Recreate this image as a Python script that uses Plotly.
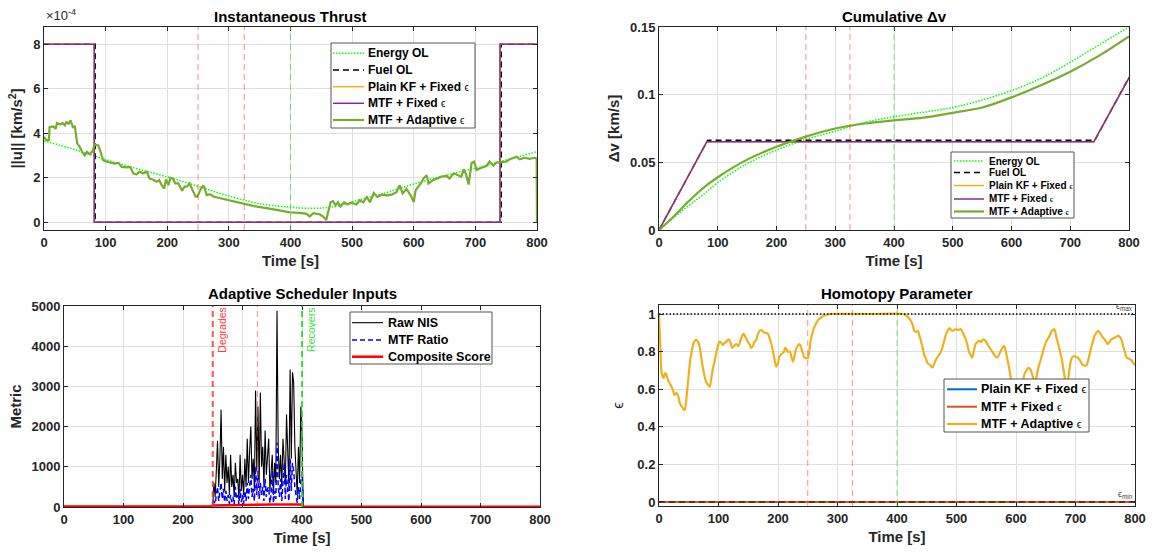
import plotly.graph_objects as go

W, H = 1154, 552
FONT = "Liberation Sans, Arial, Helvetica, sans-serif"
AX = "#262626"
GRID = "#DFDFDF"
EPS = "ϵ"

# ---------------- DATA ----------------
# Top-left: instantaneous thrust (units of 1e-4 km/s^2)
energy_t = [0, 50, 100, 150, 200, 250, 300, 350, 400, 425, 450, 475, 500, 550, 600, 650, 700, 750, 800]
energy_u = [3.66, 3.27, 2.82, 2.42, 2.04, 1.62, 1.18, 0.84, 0.68, 0.63, 0.64, 0.72, 0.92, 1.29, 1.72, 2.1, 2.43, 2.8, 3.18]

fuel_t = [0, 83, 83, 742, 742, 800]
fuel_u = [8, 8, 0, 0, 8, 8]
mtf_fixed_t = [0, 81.5, 81.5, 740, 740, 800]
mtf_fixed_u = [8, 8, 0, 0, 8, 8]
plain_t = [0, 81.5, 81.5, 740, 740, 800]
plain_u = [8, 8, 0, 0, 8, 8]

adapt_t = [0, 4, 8, 9, 15, 19, 21, 26, 30, 34, 36, 40, 43, 47, 50, 54, 58, 62, 66, 70,
           74, 79, 82, 88, 91, 96, 102, 107, 115, 121, 126, 134, 140, 145, 150, 155, 161, 167, 171, 178,
           183, 187, 191, 195, 198, 202, 205, 209, 213, 218, 224, 228, 232, 236, 240, 246, 249, 254, 258, 260,
           264, 269, 276, 308, 341, 373, 399, 415, 426, 431, 437, 448, 453, 458, 461, 465, 469, 473, 477, 481,
           487, 492, 499, 507, 512, 518, 524, 529, 535, 541, 548, 556, 564, 572, 577, 582, 588, 595, 600, 603,
           607, 612, 616, 621, 624, 631, 638, 645, 653, 658, 665, 672, 677, 681, 685, 689, 694, 698, 702, 710,
           718, 723, 729, 734, 742, 750, 758, 767, 772, 780, 788, 796, 799.5, 800]
adapt_u = [3.84, 3.69, 3.69, 4.28, 4.31, 4.2, 4.46, 4.4, 4.46, 4.36, 4.5, 4.43, 4.58, 4.28, 4.3, 3.54, 3.39, 3.16, 3.01, 3.16,
           3.06, 3.2, 3.5, 3.46, 3.24, 2.79, 2.72, 2.7, 2.64, 2.67, 2.49, 2.47, 2.49, 2.19, 2.16, 2.27, 2.2, 2.27, 1.97, 1.9,
           1.82, 1.9, 1.67, 1.52, 1.93, 1.67, 2.0, 1.97, 1.75, 1.75, 1.42, 1.6, 1.6, 1.75, 1.48, 1.15, 1.15, 1.48, 1.63, 1.6,
           1.22, 1.26, 1.15, 0.93, 0.73, 0.58, 0.45, 0.42, 0.38, 0.26, 0.41, 0.35, 0.26, 0.1, 0.4, 0.9, 0.95, 0.76, 0.9, 0.71,
           0.9, 0.8, 0.88, 0.8, 0.98, 0.9, 1.14, 0.9, 1.32, 1.14, 1.24, 1.21, 1.24, 1.35, 1.67, 1.3, 1.5, 1.21, 0.91, 1.44,
           1.59, 1.77, 1.97, 2.12, 1.74, 1.89, 1.97, 2.05, 2.08, 1.97, 2.2, 2.12, 2.05, 2.38, 2.15, 1.7, 2.68, 2.73, 2.35, 2.45,
           2.53, 2.73, 2.55, 2.68, 2.71, 2.73, 2.86, 2.95, 2.83, 2.9, 2.85, 2.9, 2.86, 0.0]

# Top-right: cumulative delta-v [km/s]
dv_t = [0, 25, 50, 75, 100, 150, 200, 250, 300, 350, 400, 450, 500, 550, 600, 650, 700, 750, 800]
dv_energy = [0, 0.0092, 0.0178, 0.026, 0.035, 0.049, 0.059, 0.067, 0.073, 0.0795, 0.0837, 0.087, 0.0905, 0.096, 0.103, 0.112, 0.124, 0.137, 0.150]
dv_adapt = [0, 0.010, 0.021, 0.031, 0.039, 0.052, 0.0615, 0.069, 0.075, 0.0787, 0.081, 0.083, 0.0866, 0.0905, 0.098, 0.107, 0.117, 0.129, 0.143]
dv_fuel_t = [0, 83, 742, 800]
dv_fuel = [0, 0.0664, 0.0664, 0.1128]
dv_fixed_t = [0, 81.5, 740, 800]
dv_fixed = [0, 0.0652, 0.0652, 0.1124]
dv_plain = [0, 0.0652, 0.0652, 0.1124]

# Bottom-left: scheduler inputs
nis_t = ([0, 50, 100, 150, 200, 248] +
         [250, 252, 254, 256, 258, 260, 262, 264, 266, 268,
          270, 272, 274, 276, 278, 280, 282, 284, 286, 288,
          290, 292, 294, 296, 298, 300, 302, 304, 306, 308,
          310, 312, 314, 316, 318, 320, 322, 324, 326, 328,
          330, 332, 334, 336, 338, 340, 342, 344, 346, 348,
          350, 352, 354, 356, 358, 360, 362, 364, 366, 368,
          370, 372, 374, 376, 378, 380, 382, 384, 386, 388,
          390, 392, 394, 396, 398, 400] +
         [402, 450, 500, 600, 700, 800])
raw_nis = ([10, 12, 8, 10, 9, 10] +
           [20, 600, 250, 900, 1650, 500, 1200, 2420, 700, 1500,
            400, 1300, 600, 1000, 300, 1300, 500, 800, 250, 1100,
            600, 700, 200, 1300, 400, 800, 300, 1200, 500, 1700,
            600, 1400, 2000, 700, 1200, 400, 2900, 900, 2500, 600,
            2850, 1000, 1500, 500, 1900, 800, 1300, 1700, 400, 900,
            1300, 300, 1100, 600, 4880, 1500, 700, 1300, 500, 1700,
            900, 600, 2300, 1100, 500, 3420, 1200, 3350, 3100, 1500,
            800, 300, 1500, 600, 2500, 1800] +
           [5, 4, 6, 5, 4, 5])
mtf_ratio = ([2, 3, 2, 3, 2, 3] +
             [10, 150, 80, 300, 500, 150, 350, 600, 200, 450,
              120, 400, 150, 300, 80, 300, 120, 250, 60, 500,
              200, 300, 60, 450, 120, 300, 80, 400, 150, 600,
              200, 500, 800, 250, 450, 150, 1000, 300, 900, 200,
              600, 300, 500, 150, 700, 250, 450, 500, 100, 300,
              900, 100, 400, 200, 1600, 500, 250, 700, 150, 600,
              1100, 200, 800, 400, 150, 1200, 400, 1100, 900, 500,
              300, 100, 500, 200, 600, 900] +
             [1, 1, 1, 1, 1, 1])
comp_t = [0, 100, 200, 249, 250, 300, 350, 399, 400, 401, 500, 600, 700, 800]
comp_score = [15, 18, 12, 15, 40, 55, 60, 60, 60, 5, 6, 5, 6, 5]

# Bottom-right: homotopy parameter
eps_t = [0, 2, 5, 8, 10, 12, 15, 18, 21, 24, 26, 30, 33, 35, 38, 41, 43, 45, 47, 50,
         52.5, 55, 58, 62.6, 65, 68, 71, 74, 79, 82, 85, 88, 90.5, 93, 96, 99, 101.7, 104, 107, 110,
         113, 117, 120, 123, 126, 130, 133, 135, 138, 142, 145, 149, 152, 155, 158, 160, 163, 166, 169, 172,
         174, 177, 180, 183, 185, 188, 191, 194, 197, 200, 202, 205, 207, 210, 212, 214, 216, 218, 220, 222,
         225, 228, 230, 233, 236, 238, 240, 242, 244, 247, 250, 252, 255, 258, 261, 264, 268, 272, 276, 280,
         285, 291, 350, 410, 414, 418, 421, 424, 427, 429, 432, 435, 438, 440, 443, 446, 449, 451, 455, 458,
         460, 463, 466, 469, 471, 474, 477, 480, 482, 485, 488, 491, 493, 496, 500, 503, 507, 510, 512, 515,
         518, 521, 524, 526, 529, 532, 535, 538, 541, 543, 546, 549, 552, 556, 560, 564, 568, 571, 574, 577,
         580, 583, 585, 588, 592, 596, 600, 604, 608, 612, 615, 618, 621, 624, 626, 628, 630, 632, 634, 636,
         638, 641, 644, 647, 649, 652, 655, 658, 660, 662, 664, 666, 668, 671, 674, 677, 679, 681, 683, 685,
         687, 688, 690, 693, 696, 699, 702, 704, 708, 712, 715, 718, 721, 724, 727, 730, 732, 735, 738, 741,
         743, 746, 749, 752, 754, 757, 760, 763, 766, 769, 771, 774, 777, 780, 783, 786, 788, 791, 794, 797, 800]
eps_adapt = [1.0, 0.85, 0.68, 0.66, 0.685, 0.68, 0.65, 0.63, 0.614, 0.59, 0.57, 0.58, 0.555, 0.526, 0.51, 0.495, 0.49, 0.52, 0.58, 0.68,
             0.756, 0.8, 0.844, 0.862, 0.855, 0.83, 0.77, 0.71, 0.64, 0.625, 0.614, 0.66, 0.71, 0.74, 0.79, 0.83, 0.853, 0.85, 0.835, 0.845,
             0.853, 0.865, 0.85, 0.82, 0.83, 0.84, 0.83, 0.84, 0.87, 0.894, 0.88, 0.853, 0.84, 0.82, 0.83, 0.85, 0.86, 0.89, 0.91, 0.915,
             0.91, 0.9, 0.9, 0.895, 0.88, 0.85, 0.81, 0.76, 0.72, 0.74, 0.77, 0.785, 0.79, 0.8, 0.82, 0.815, 0.8, 0.8, 0.8, 0.78,
             0.747, 0.78, 0.81, 0.83, 0.84, 0.83, 0.81, 0.79, 0.77, 0.765, 0.765, 0.79, 0.86, 0.9, 0.93, 0.95, 0.97, 0.98, 0.99, 0.995,
             0.998, 1.0, 1.0, 1.0, 0.995, 0.985, 0.975, 0.96, 0.935, 0.91, 0.905, 0.91, 0.88, 0.86, 0.82, 0.78, 0.76, 0.74, 0.73, 0.72,
             0.716, 0.74, 0.76, 0.775, 0.785, 0.8, 0.83, 0.865, 0.89, 0.91, 0.925, 0.915, 0.91, 0.915, 0.92, 0.915, 0.92, 0.905, 0.89, 0.87,
             0.84, 0.8, 0.78, 0.768, 0.8, 0.84, 0.85, 0.857, 0.85, 0.86, 0.865, 0.855, 0.84, 0.82, 0.8, 0.78, 0.768, 0.78, 0.8, 0.82,
             0.83, 0.8, 0.768, 0.72, 0.65, 0.6, 0.57, 0.56, 0.6, 0.65, 0.687, 0.7, 0.714, 0.705, 0.69, 0.67, 0.645, 0.64, 0.66, 0.69,
             0.72, 0.75, 0.786, 0.82, 0.84, 0.86, 0.875, 0.895, 0.91, 0.915, 0.92, 0.905, 0.875, 0.84, 0.8, 0.76, 0.72, 0.68, 0.64, 0.62,
             0.64, 0.66, 0.71, 0.76, 0.775, 0.776, 0.77, 0.768, 0.75, 0.73, 0.727, 0.725, 0.75, 0.79, 0.83, 0.86, 0.885, 0.9, 0.91, 0.9,
             0.89, 0.875, 0.865, 0.85, 0.84, 0.85, 0.865, 0.87, 0.875, 0.88, 0.885, 0.88, 0.865, 0.83, 0.8, 0.768, 0.765, 0.76, 0.755, 0.74, 0.727]
eps_fixed_t = [0, 800]
eps_plain = [0, 0]
eps_mtf_fixed = [0, 0]
eps_bounds = [0, 1]   # epsilon_min, epsilon_max

degrade_t = [250, 325]
recover_t = 400

# --------------- LAYOUT GEOMETRY (pixels) ---------------
def px_dom_x(a, b):
    return [a / W, b / W]

def px_dom_y(top, bottom):
    return [1 - bottom / H, 1 - top / H]

fig = go.Figure()

# colours / styles
C_EN = "#00FF00"
C_FUEL = "#000000"
C_PLAIN = "#EDB120"
C_FIX = "#7E2F8E"
C_AD = "#77AC30"
DOT = "1.5px,1.5px"
DASH = "6px,4px"

def L(x, y, color, width, dash="solid", ax="", shape="linear"):
    fig.add_trace(go.Scatter(x=x, y=y, mode="lines", showlegend=False, hoverinfo="skip",
                             line=dict(color=color, width=width, dash=dash, shape=shape),
                             xaxis="x" + ax, yaxis="y" + ax))

# Top-left
L(energy_t, energy_u, C_EN, 1.5, DOT, "", "spline")
L(fuel_t, fuel_u, C_FUEL, 1.5, DASH, "")
L(plain_t, plain_u, C_PLAIN, 1.5, "solid", "")
L(mtf_fixed_t, mtf_fixed_u, C_FIX, 1.5, "solid", "")
L(adapt_t, adapt_u, C_AD, 2.2, "solid", "")

# Top-right
L(dv_t, dv_energy, C_EN, 1.5, DOT, "2", "spline")
L(dv_fuel_t, dv_fuel, C_FUEL, 1.5, DASH, "2")
L(dv_fixed_t, dv_plain, C_PLAIN, 1.5, "solid", "2")
L(dv_fixed_t, dv_fixed, C_FIX, 1.5, "solid", "2")
L(dv_t, dv_adapt, C_AD, 2.2, "solid", "2", "spline")

# Bottom-left
C_NIS, C_RATIO, C_COMP = "#000000", "#0000FF", "#FF0000"
L(nis_t, raw_nis, C_NIS, 1.1, "solid", "3")
L(nis_t, mtf_ratio, C_RATIO, 1.5, "5px,3px", "3")
L(comp_t, comp_score, C_COMP, 2.5, "solid", "3")

# Bottom-right
C_B1, C_B2, C_B3 = "#0072BD", "#D95319", "#EDB120"
L(eps_fixed_t, eps_plain, C_B1, 2, "solid", "4")
L(eps_fixed_t, eps_mtf_fixed, C_B2, 2, "solid", "4")
L(eps_t, eps_adapt, C_B3, 2.2, "solid", "4", "spline")
L(eps_fixed_t, [eps_bounds[1]] * 2, "#000000", 1.3, "1.5px,2px", "4")
L(eps_fixed_t, [eps_bounds[0]] * 2, "#000000", 1, DASH, "4")

# event lines
shapes = []
def vline(xref, yref, x, color, width):
    shapes.append(dict(type="line", xref=xref, yref=yref + " domain", x0=x, x1=x, y0=0, y1=1,
                       line=dict(color=color, width=width, dash=DASH), layer="above"))

RED_L = "rgba(255,60,60,0.6)"
GRN_L = "rgba(40,220,40,0.6)"
for ax in ["", "2", "4"]:
    for t in degrade_t:
        vline("x" + ax, "y" + ax, t, RED_L, 1)
    vline("x" + ax, "y" + ax, recover_t, GRN_L, 1)
vline("x3", "y3", degrade_t[0], "rgba(255,50,50,0.85)", 2)
vline("x3", "y3", degrade_t[1], RED_L, 1)
vline("x3", "y3", recover_t, "rgba(40,220,40,0.9)", 2)

# axes
def axis_x(dom, anchor, rng, dtick):
    return dict(domain=dom, anchor=anchor, range=rng, dtick=dtick, showline=True, mirror="ticks",
                linecolor=AX, linewidth=1, ticks="inside", ticklen=4, tickcolor=AX, automargin=False,
                showgrid=True, gridcolor=GRID, zeroline=False, fixedrange=True,
                tickfont=dict(family=FONT, size=13, color=AX, weight="bold"),
                title=dict(text="<b>Time [s]</b>", font=dict(family=FONT, size=15, color=AX), standoff=6))

def axis_y(dom, anchor, rng, tickvals, ticktext, title, standoff):
    return dict(domain=dom, anchor=anchor, range=rng, tickvals=tickvals, ticktext=ticktext,
                showline=True, mirror="ticks", linecolor=AX, linewidth=1, ticks="inside", ticklen=4,
                tickcolor=AX, showgrid=True, gridcolor=GRID, zeroline=False, automargin=False, fixedrange=True,
                tickfont=dict(family=FONT, size=13, color=AX, weight="bold"),
                title=dict(text=title, font=dict(family=FONT, size=15, color=AX), standoff=standoff))

dom_tl_x, dom_t_y = px_dom_x(44, 537), px_dom_y(27, 230)
dom_tr_x = px_dom_x(659, 1129)
dom_bl_x, dom_bl_y = px_dom_x(64, 540), px_dom_y(306, 507)
dom_br_x, dom_br_y = px_dom_x(659, 1135), px_dom_y(305, 506)

fig.update_layout(
    width=W, height=H, margin=dict(l=0, r=0, t=0, b=0, autoexpand=False),
    paper_bgcolor="white", plot_bgcolor="white", showlegend=False,
    font=dict(family=FONT, color=AX),
    xaxis=axis_x(dom_tl_x, "y", [0, 800], 100),
    yaxis=axis_y(dom_t_y, "x", [-0.346, 8.778], [0, 2, 4, 6, 8], ["0", "2", "4", "6", "8"],
                 "<b>||u|| [km/s<sup>2</sup>]</b>", 6),
    xaxis2=axis_x(dom_tr_x, "y2", [0, 800], 100),
    yaxis2=axis_y(dom_t_y, "x2", [0, 0.15], [0, 0.05, 0.1, 0.15], ["0", "0.05", "0.1", "0.15"],
                  "<b>Δv [km/s]</b>", 6),
    xaxis3=axis_x(dom_bl_x, "y3", [0, 800], 100),
    yaxis3=axis_y(dom_bl_y, "x3", [0, 5000], [0, 1000, 2000, 3000, 4000, 5000],
                  ["0", "1000", "2000", "3000", "4000", "5000"], "<b>Metric</b>", 6),
    xaxis4=axis_x(dom_br_x, "y4", [0, 800], 100),
    yaxis4=axis_y(dom_br_y, "x4", [-0.0214, 1.048], [0, 0.2, 0.4, 0.6, 0.8, 1],
                  ["0", "0.2", "0.4", "0.6", "0.8", "1"], EPS, 10),
)

ann = []

# compact MATLAB-style legend boxes (pixel layout)
def legend_box(box, sample_x, text_x, rows, entries, fsize, esize):
    x0, y0, x1, y1 = box
    shapes.append(dict(type="rect", xref="paper", yref="paper", x0=x0 / W, x1=x1 / W,
                       y0=1 - y1 / H, y1=1 - y0 / H, fillcolor="white",
                       line=dict(color="#555555", width=1), layer="above"))
    for (name, has_eps, col, wid, ds), ry in zip(entries, rows):
        yy = 1 - ry / H
        shapes.append(dict(type="line", xref="paper", yref="paper", x0=sample_x[0] / W, x1=sample_x[1] / W,
                           y0=yy, y1=yy, line=dict(color=col, width=wid, dash=ds), layer="above"))
        txt = "<b>" + name + "</b>" + (" <span style='font-size:%dpx'>%s</span>" % (esize, EPS) if has_eps else "")
        ann.append(dict(text=txt, xref="paper", yref="paper", x=text_x / W, y=yy, xanchor="left",
                        yanchor="middle", showarrow=False, font=dict(family=FONT, size=fsize, color="#000")))

top_entries = [("Energy OL", False, C_EN, 1.5, DOT), ("Fuel OL", False, C_FUEL, 1.5, DASH),
               ("Plain KF + Fixed", True, C_PLAIN, 1.5, "solid"), ("MTF + Fixed", True, C_FIX, 1.5, "solid"),
               ("MTF + Adaptive", True, C_AD, 2.2, "solid")]
legend_box((331, 43, 475, 128), (333, 364), 366, [53.3, 70, 86.7, 103.3, 120], top_entries, 12, 10)
legend_box((951, 152, 1074, 218), (954, 984), 987, [161, 172.5, 185.5, 199, 211.5], top_entries, 10, 8)
legend_box((350, 312, 492, 364), (352, 383), 386, [322.7, 340, 356.7],
           [("Raw NIS", False, C_NIS, 1.1, "solid"), ("MTF Ratio", False, C_RATIO, 1.5, "5px,3px"),
            ("Composite Score", False, C_COMP, 2.5, "solid")], 12.5, 10)
legend_box((944, 379, 1089, 432), (947, 977), 979, [389.3, 406.7, 424],
           [("Plain KF + Fixed", True, C_B1, 2, "solid"), ("MTF + Fixed", True, C_B2, 2, "solid"),
            ("MTF + Adaptive", True, C_B3, 2.2, "solid")], 12.5, 11)

fig.update_layout(shapes=shapes)

def title(text, xa, xb, ycenter):
    ann.append(dict(text="<b>" + text + "</b>", xref="paper", yref="paper", x=(xa + xb) / 2 / W,
                    y=1 - ycenter / H, xanchor="center", yanchor="middle", showarrow=False,
                    font=dict(family=FONT, size=15, color="#000")))

title("Instantaneous Thrust", 44, 537, 16)
title("Cumulative Δv", 659, 1129, 16)
title("Adaptive Scheduler Inputs", 64, 540, 293)
title("Homotopy Parameter", 659, 1135, 293)
ann.append(dict(text="×10<sup>-4</sup>", xref="paper", yref="paper", x=44 / W, y=1 - 25 / H,
                xanchor="left", yanchor="bottom", showarrow=False,
                font=dict(family=FONT, size=13, color=AX)))
ann.append(dict(text="Degrades", xref="x3", yref="paper", x=265, y=1 - 330 / H, textangle=-90,
                xanchor="center", yanchor="middle", showarrow=False,
                font=dict(family=FONT, size=10.5, color="#FF3B3B")))
ann.append(dict(text="Recovers", xref="x3", yref="paper", x=415, y=1 - 330 / H, textangle=-90,
                xanchor="center", yanchor="middle", showarrow=False,
                font=dict(family=FONT, size=10.5, color="#3BE03B")))
ann.append(dict(text=EPS + "<sub>max</sub>", xref="x4", yref="y4", x=800, y=1.0, xanchor="right",
                yanchor="bottom", showarrow=False, font=dict(family=FONT, size=9, color="#444")))
ann.append(dict(text=EPS + "<sub>min</sub>", xref="x4", yref="y4", x=800, y=0.0, xanchor="right",
                yanchor="bottom", showarrow=False, font=dict(family=FONT, size=9, color="#444")))
fig.update_layout(annotations=ann)

fig.write_html("out.html", config={"displayModeBar": False, "staticPlot": False},
               post_script="document.body.style.margin='0';document.body.style.overflow='hidden';")
